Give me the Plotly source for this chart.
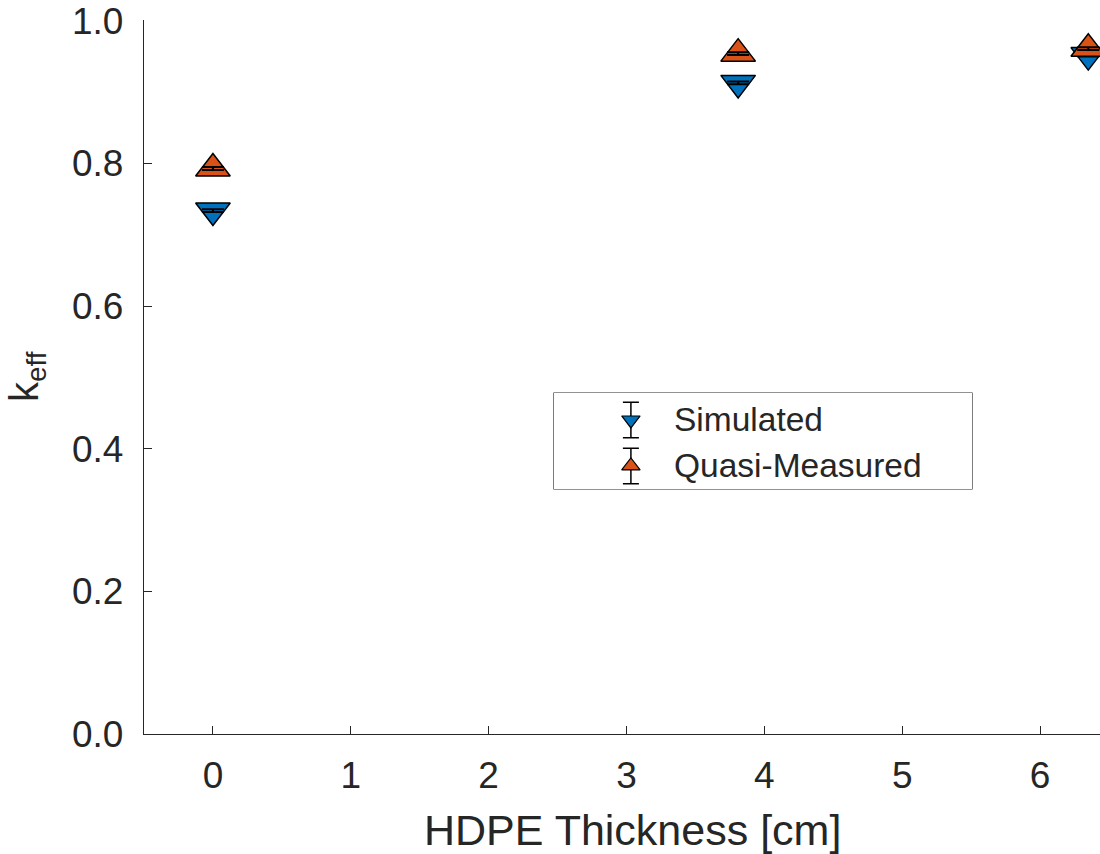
import plotly.graph_objects as go

# ---- data ----
thickness_cm = [0.0, 3.81, 6.35]
simulated = [0.734, 0.913, 0.952]
simulated_err = [0.002, 0.002, 0.002]
quasi_measured = [0.793, 0.954, 0.961]
quasi_err = [0.002, 0.002, 0.002]
series_names = ["Simulated", "Quasi-Measured"]
x_ticks = [0, 1, 2, 3, 4, 5, 6]
y_ticks = [0.0, 0.2, 0.4, 0.6, 0.8, 1.0]
y_tick_labels = ["0.0", "0.2", "0.4", "0.6", "0.8", "1.0"]

BLUE = "#0072BD"
ORANGE = "#D95319"
INK = "#262626"
FONT = "Liberation Sans, Arial, Helvetica, sans-serif"

W, H = 1100, 854
ML, MR, MT, MB = 144, 0, 20, 120

fig = go.Figure()

def add_series(y, err, color, symbol):
    fig.add_trace(go.Scatter(
        x=thickness_cm, y=y, mode="markers", showlegend=False,
        marker=dict(symbol=symbol, size=30, color=color,
                    line=dict(color="black", width=1.5)),
        cliponaxis=True, hoverinfo="skip"))
    # error bars drawn on top of the markers
    fig.add_trace(go.Scatter(
        x=thickness_cm, y=y, mode="markers", showlegend=False,
        marker=dict(size=1, opacity=0),
        error_y=dict(type="data", array=err, visible=True,
                     color="black", thickness=2, width=11),
        hoverinfo="skip"))

add_series(simulated, simulated_err, BLUE, "triangle-down")
add_series(quasi_measured, quasi_err, ORANGE, "triangle-up")

# ---- manual legend (MATLAB style, glyph with error bar) ----
leg_x0, leg_x1 = (554 - ML) / 956, (972 - ML) / 956
leg_y0, leg_y1 = (734 - 489) / 714, (734 - 393) / 714
fig.add_shape(type="rect", xref="paper", yref="paper",
              x0=leg_x0, x1=leg_x1, y0=leg_y0, y1=leg_y1,
              line=dict(color=INK, width=1.2), fillcolor="white", layer="below")

glyph_x = 0.184
row_y = [0.719, 0.24]
for name, color, symbol, ry in [(series_names[0], BLUE, "triangle-down", row_y[0]),
                                (series_names[1], ORANGE, "triangle-up", row_y[1])]:
    fig.add_trace(go.Scatter(
        x=[glyph_x], y=[ry], xaxis="x2", yaxis="y2", mode="markers",
        showlegend=False, hoverinfo="skip",
        marker=dict(symbol=symbol, size=16, color=color,
                    line=dict(color="black", width=1.2)),
        error_y=dict(type="constant", value=0.185, color="black",
                     thickness=1.5, width=8)))
    fig.add_annotation(xref="x2", yref="y2", x=0.282, y=ry, text=name,
                       showarrow=False, xanchor="left", yanchor="middle",
                       font=dict(family=FONT, size=33.5, color=INK))

fig.update_layout(
    width=W, height=H,
    margin=dict(l=ML, r=MR, t=MT, b=MB, autoexpand=False),
    paper_bgcolor="white", plot_bgcolor="white",
    font=dict(family=FONT, color=INK),
    xaxis=dict(range=[-0.5, 6.435], tickvals=x_ticks,
               ticks="inside", ticklen=8, tickwidth=1.3, tickcolor=INK,
               showline=True, linecolor=INK, linewidth=1.3,
               showgrid=False, zeroline=False,
               tickfont=dict(family=FONT, size=37, color=INK),
               ticklabelstandoff=8),
    yaxis=dict(range=[0, 1.0012], tickvals=y_ticks, ticktext=y_tick_labels,
               ticks="inside", ticklen=8, tickwidth=1.3, tickcolor=INK,
               showline=True, linecolor=INK, linewidth=1.3,
               showgrid=False, zeroline=False,
               tickfont=dict(family=FONT, size=37, color=INK),
               ticklabelstandoff=12, ticklabeloverflow="allow"),
    xaxis2=dict(domain=[leg_x0, leg_x1], range=[0, 1], visible=False,
                anchor="y2", fixedrange=True),
    yaxis2=dict(domain=[leg_y0, leg_y1], range=[0, 1], visible=False,
                anchor="x2", fixedrange=True),
    showlegend=False,
)

# axis titles
fig.add_annotation(xref="paper", yref="paper", x=(632 - ML) / 956, y=(734 - 830) / 714,
                   text="HDPE Thickness [cm]", showarrow=False,
                   xanchor="center", yanchor="middle",
                   font=dict(family=FONT, size=43, color=INK))
fig.add_annotation(xref="paper", yref="paper", x=(27 - ML) / 956, y=(734 - 377) / 714,
                   text="k<sub>eff</sub>", showarrow=False, textangle=-90,
                   xanchor="center", yanchor="middle",
                   font=dict(family=FONT, size=40, color=INK))

fig.write_html("out.html")
